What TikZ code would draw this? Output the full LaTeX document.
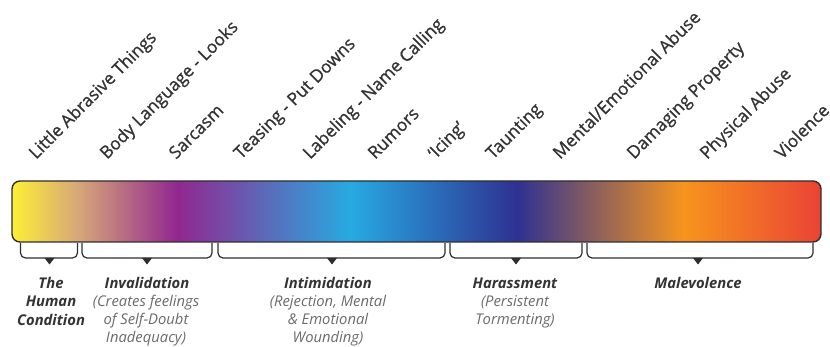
\documentclass[tikz,border=0pt]{standalone}
\usepackage{fontspec}
\setmainfont{Open Sans}
\newfontfamily\labfont[FakeBold=0.9]{Open Sans}
\definecolor{txt}{HTML}{333333}
\definecolor{subtxt}{HTML}{6A6A6A}
\definecolor{edge}{HTML}{2E2E2E}
\definecolor{cyel}{HTML}{FDEF36}
\definecolor{ctan}{HTML}{D7A877}
\definecolor{cpur}{HTML}{92278F}
\definecolor{ccya}{HTML}{27AAE1}
\definecolor{cdbl}{HTML}{2E3192}
\definecolor{cora}{HTML}{F7941D}
\definecolor{cred}{HTML}{EA4335}
\pgfdeclarehorizontalshading{spectrum}{100bp}{%
  color(0bp)=(cyel); color(25bp)=(cyel); color(29.02bp)=(ctan); color(35.2bp)=(cpur);
  color(45.9bp)=(ccya); color(56.2bp)=(cdbl); color(66.5bp)=(cora); color(75bp)=(cred); color(100bp)=(cred)}
\tikzset{
  lab/.style={rotate=45, anchor=base west, inner sep=0pt, text=txt, font=\labfont\fontsize{17.4}{18}\selectfont},
  ttl/.style={anchor=base, inner sep=0pt, text=txt, font=\fontsize{14.8}{18.5}\selectfont\bfseries\itshape, align=center},
  sub/.style={anchor=north, inner sep=0pt, text=subtxt, font=\fontsize{14.8}{18.2}\selectfont\itshape, align=center},
  brk/.style={draw=edge, line width=1.2pt, rounded corners=5pt},
  tip/.style={fill=edge},
}
\begin{document}
\begin{tikzpicture}[x=1pt,y=-1pt]
\useasboundingbox (0,0) rectangle (830,347);
% bar
\path[shade, shading=spectrum, draw=edge, line width=1.4pt, rounded corners=8pt] (12,181) rectangle (821,242);
% labels
\node[lab] (l1) at (36,160) {Little Abrasive Things};
\node[lab] (l2) at (107,160) {Body Language - Looks};
\node[lab] (l3) at (176,160) {Sarcasm};
\node[lab] (l4) at (241,160) {Teasing - Put Downs};
\node[lab] (l5) at (310,160) {Labeling - Name Calling};
\node[lab] (l6) at (375,160) {Rumors};
\node[lab] (l7) at (435,160) {‘Icing’};
\node[lab] (l8) at (493,160) {Taunting};
\node[lab] (l9) at (560,160) {Mental/Emotional Abuse};
\node[lab] (l10) at (634,160) {Damaging Property};
\node[lab] (l11) at (707,160) {Physical Abuse};
\node[lab] (l12) at (782,160) {Violence};
% brackets
\draw[brk] (20.5,243) -- (20.5,258) -- (77.5,258) -- (77.5,243);
\draw[brk] (82,243) -- (82,258) -- (212,258) -- (212,243);
\draw[brk] (218,243) -- (218,258) -- (445,258) -- (445,243);
\draw[brk] (450,243) -- (450,258) -- (582,258) -- (582,243);
\draw[brk] (587,243) -- (587,258) -- (813,258) -- (813,243);
\fill[tip] (44.5,258) -- (54.5,258) -- (49.5,264.5) -- cycle;
\fill[tip] (142,258) -- (152,258) -- (147,264.5) -- cycle;
\fill[tip] (327,258) -- (337,258) -- (332,264.5) -- cycle;
\fill[tip] (511,258) -- (521,258) -- (516,264.5) -- cycle;
\fill[tip] (693,258) -- (703,258) -- (698,264.5) -- cycle;
% group labels
\node[ttl] (g1) at (51,325.5) {The\\Human\\Condition};
\node[ttl] (g2) at (147,288.5) {Invalidation};
\node[sub] (s2) at (146,295) {(Creates feelings\\of Self-Doubt\\Inadequacy)};
\node[ttl] (g3) at (328,288.5) {Intimidation};
\node[sub] (s3) at (328,295) {(Rejection, Mental\\\& Emotional\\Wounding)};
\node[ttl] (g4) at (515,288.5) {Harassment};
\node[sub] (s4) at (515,295) {(Persistent\\Tormenting)};
\node[ttl] (g5) at (698,288.5) {Malevolence};
\end{tikzpicture}
\end{document}
